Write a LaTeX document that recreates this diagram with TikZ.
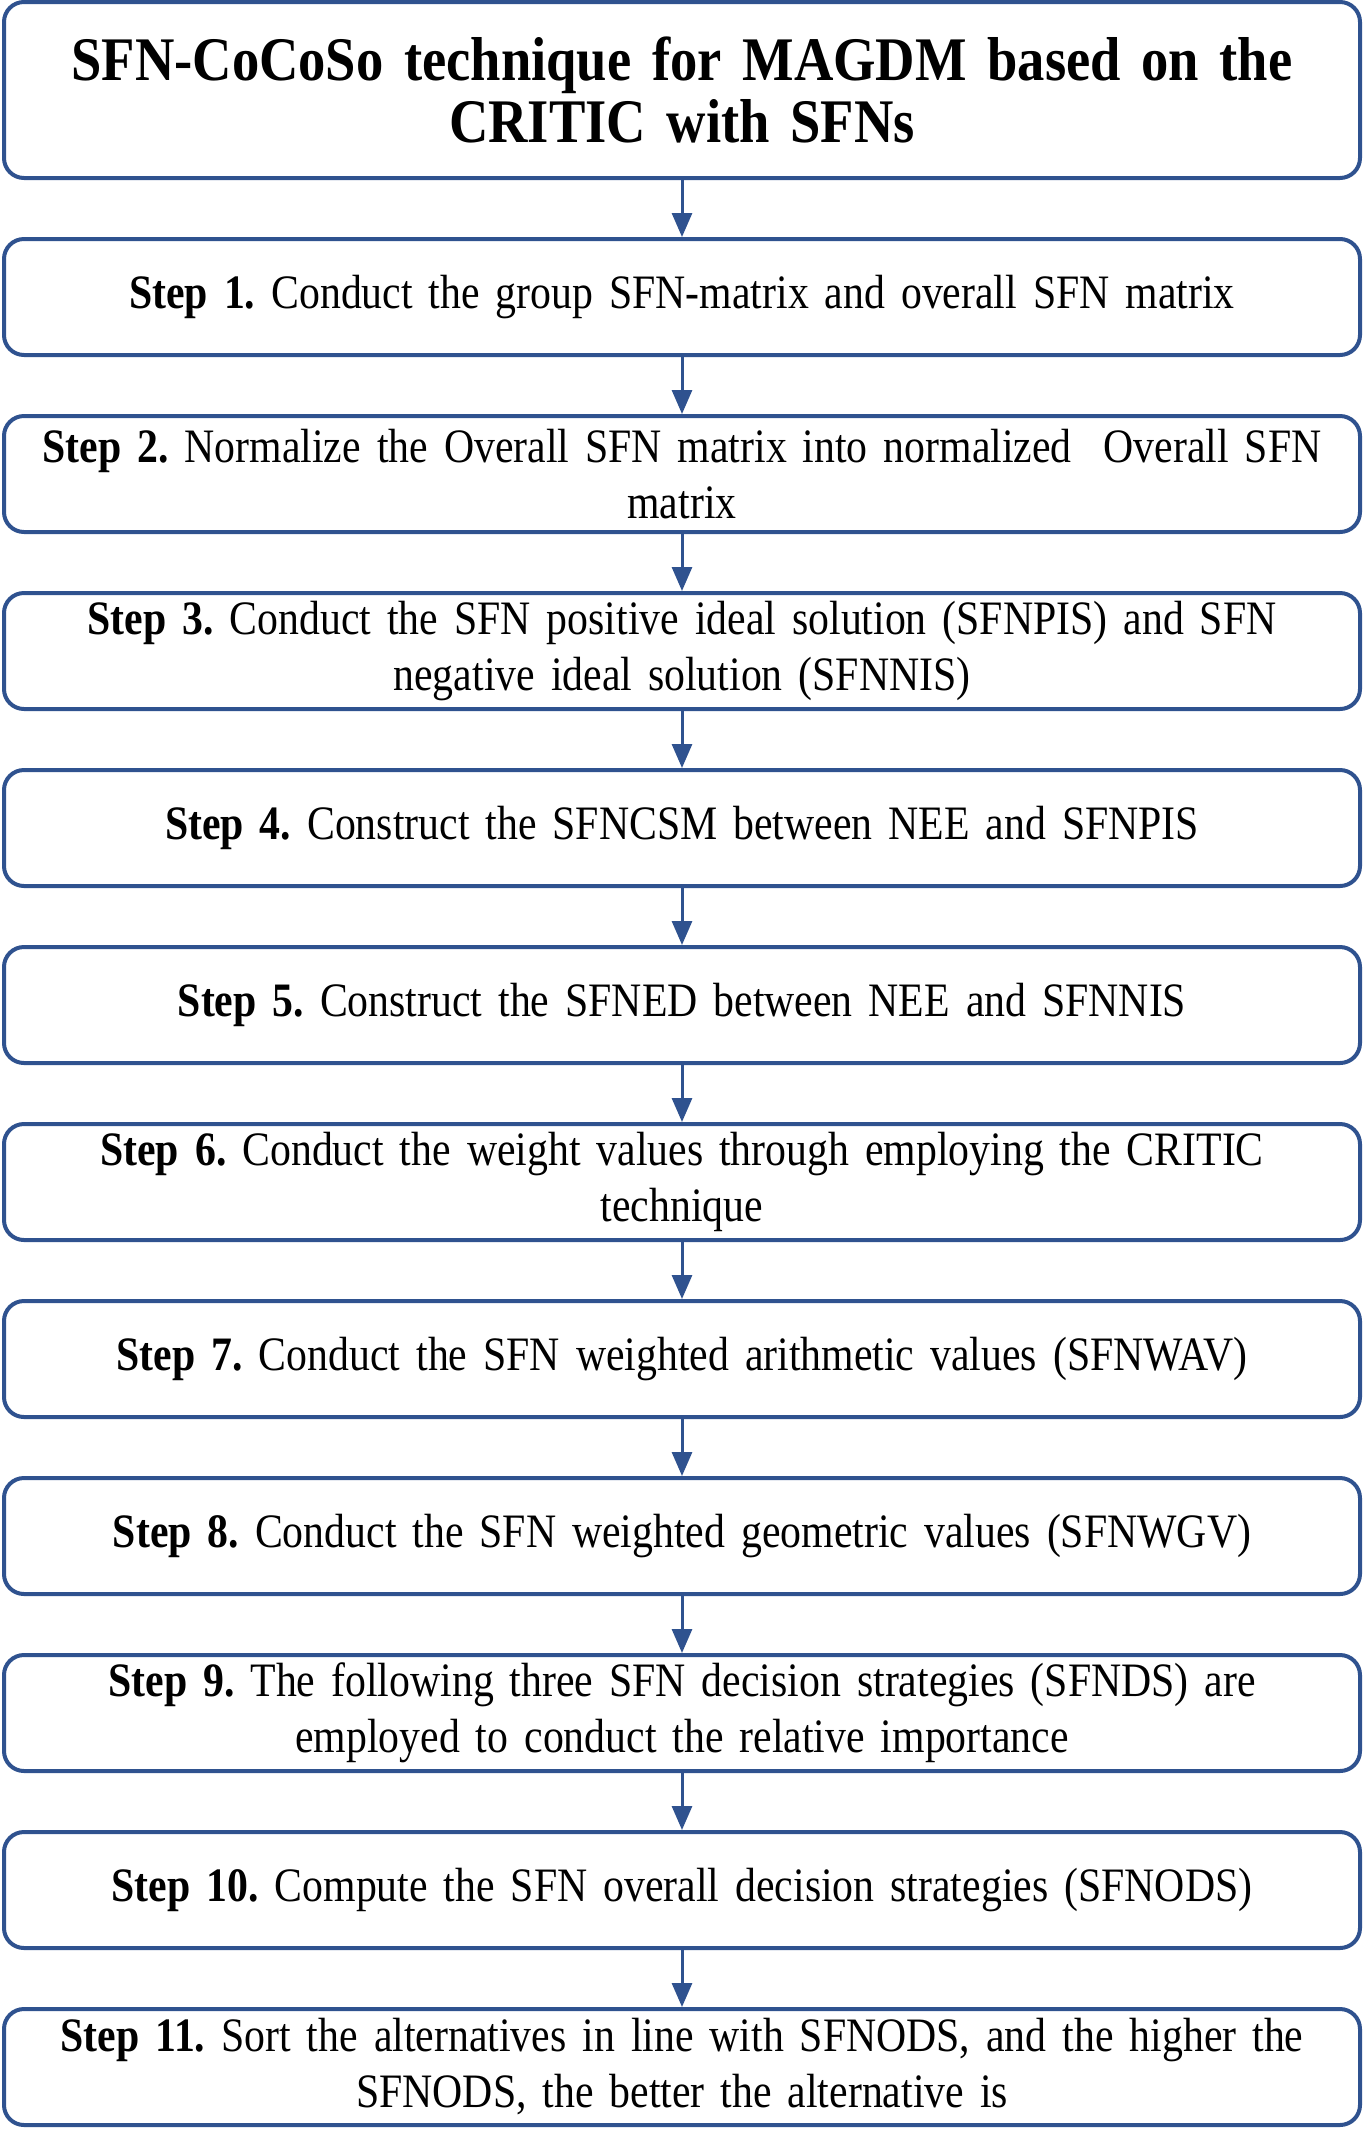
\documentclass[tikz,border=0pt]{standalone}
\usepackage{fontspec}
\setmainfont[FakeStretch=0.87,WordSpace=0.88]{Liberation Serif}
\newfontfamily\headfont[FakeStretch=0.88]{Liberation Serif}
\frenchspacing
\newcommand{\titlestyle}{%
  \headfont\fontsize{31}{31}\selectfont\bfseries
  \lineskiplimit=-100pt\relax\lineskip=0pt\relax}
\usepackage{tikz}
\usetikzlibrary{
  arrows.meta,
  positioning,
}
\definecolor{flowBlue}{HTML}{2F528F}
\tikzset{
  titlebox/.style={
    rectangle, rounded corners=10pt, draw=flowBlue, line width=2pt,
    minimum width=678pt, minimum height=88pt, text width=670pt,
    align=center, inner sep=0pt, font=\titlestyle,
  },
  stepbox/.style={
    rectangle, rounded corners=10pt, draw=flowBlue, line width=2pt,
    minimum width=678pt, minimum height=58pt, text width=670pt,
    align=center, inner sep=0pt,
    font=\fontsize{24}{28}\selectfont,
  },
  arrowStep/.style={
    -{Triangle[length=12pt,width=10pt]}, line width=1.5pt, draw=flowBlue,
  },
}

\begin{document}
\begin{tikzpicture}[node distance=28.5pt]
\useasboundingbox (0,0) rectangle (682.5pt,-1066pt);
\node[titlebox] (title) at (341pt,-45pt) {%
  SFN-CoCoSo technique for MAGDM based on the\\
  CRITIC with SFNs};
\node[stepbox, below=of title] (s1) {%
  \textbf{Step 1.} Conduct the group SFN-matrix and overall SFN matrix};
\node[stepbox, below=of s1] (s2) {%
  \textbf{Step 2.} Normalize the Overall SFN matrix into normalized\ \ Overall SFN\\
  matrix};
\node[stepbox, below=of s2] (s3) {%
  \textbf{Step 3.} Conduct the SFN positive ideal solution (SFNPIS) and SFN\\
  negative ideal solution (SFNNIS)};
\node[stepbox, below=of s3] (s4) {%
  \textbf{Step 4.} Construct the SFNCSM between NEE and SFNPIS};
\node[stepbox, below=of s4] (s5) {%
  \textbf{Step 5.} Construct the SFNED between NEE and SFNNIS};
\node[stepbox, below=of s5] (s6) {%
  \textbf{Step 6.} Conduct the weight values through employing the CRITIC\\
  technique};
\node[stepbox, below=of s6] (s7) {%
  \textbf{Step 7.} Conduct the SFN weighted arithmetic values (SFNWAV)};
\node[stepbox, below=of s7] (s8) {%
  \textbf{Step 8.} Conduct the SFN weighted geometric values (SFNWGV)};
\node[stepbox, below=of s8] (s9) {%
  \textbf{Step 9.} The following three SFN decision strategies (SFNDS) are\\
  employed to conduct the relative importance};
\node[stepbox, below=of s9] (s10) {%
  \textbf{Step 10.} Compute the SFN overall decision strategies (SFNODS)};
\node[stepbox, below=of s10] (s11) {%
  \textbf{Step 11.} Sort the alternatives in line with SFNODS, and the higher the\\
  SFNODS, the better the alternative is};

% connectors
\draw[arrowStep] (title) -- (s1);
\foreach \a/\b in {s1/s2, s2/s3, s3/s4, s4/s5, s5/s6, s6/s7, s7/s8, s8/s9, s9/s10, s10/s11}
  \draw[arrowStep] (\a) -- (\b);
\end{tikzpicture}
\end{document}
